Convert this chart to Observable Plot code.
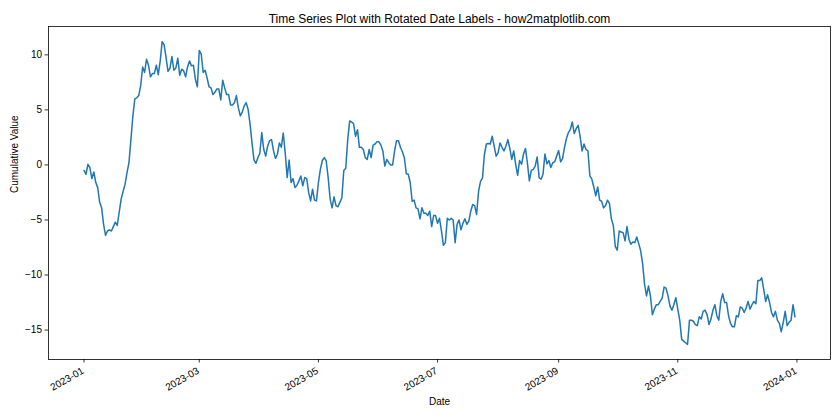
<!DOCTYPE html>
<html>
<head>
<meta charset="utf-8">
<script src="https://cdn.jsdelivr.net/npm/d3@7"></script>
<script src="https://cdn.jsdelivr.net/npm/@observablehq/plot@0.6"></script>
<style>
  html, body { margin: 0; padding: 0; background: #fff; }
  #chart svg { display: block; }
</style>
</head>
<body>
<div id="chart"></div>
<script>
// Daily cumulative values, 2023-01-01 .. 2023-12-31
const startDate = "2023-01-01";
const values = [
  -0.5, -0.85, 0.06, -0.24, -1.24, -0.64, -1.6, -2.06, -3.4, -3.9,
  -5.4, -6.4, -6.0, -5.9, -6.0, -5.6, -5.2, -5.5, -4.3, -3.1,
  -2.4, -1.75, -0.7, 0.2, 2.3, 4.45, 6.0, 6.1, 6.3, 7.2,
  8.9, 8.4, 9.6, 9.06, 8.0, 8.3, 8.3, 9.06, 8.2, 9.45,
  11.2, 10.9, 9.75, 8.5, 8.8, 9.85, 8.6, 8.8, 9.7, 8.15,
  8.7, 8.55, 8.0, 8.9, 9.45, 9.0, 9.06, 7.8, 7.1, 10.4,
  10.06, 8.4, 8.6, 7.9, 7.1, 7.0, 6.4, 6.6, 6.9, 6.9,
  5.9, 7.7, 7.0, 6.4, 6.4, 5.45, 5.45, 5.65, 6.3, 5.2,
  4.45, 4.8, 5.36, 5.65, 5.06, 3.7, 2.0, 0.45, 0.15, 0.66,
  1.06, 2.94, 1.42, 0.8, 1.7, 2.2, 2.3, 1.3, 0.6, 0.97,
  2.0, 1.6, 2.9, 1.1, -1.15, 0.45, -1.6, -1.25, -2.06, -1.85,
  -1.45, -1.0, -1.9, -1.15, -1.25, -2.5, -3.27, -2.2, -3.2, -3.27,
  -1.6, -0.4, 0.4, 0.66, 0.36, -1.15, -3.1, -3.9, -2.9, -3.7,
  -3.8, -3.4, -3.0, -0.5, -0.3, 2.3, 4.0, 3.9, 3.75, 2.6,
  3.2, 1.6, 1.6, 1.4, 0.66, 0.5, 1.4, 0.66, 1.8, 1.9,
  2.1, 2.1, 1.8, 1.27, -0.1, 0.5, 0.2, 0.0, 0.0, 1.27,
  2.2, 2.2, 1.6, 1.2, 0.66, -0.8, -0.85, -1.6, -3.3, -3.2,
  -3.9, -4.0, -4.9, -3.9, -4.4, -4.4, -4.6, -4.2, -5.6, -4.6,
  -4.6, -5.3, -4.85, -6.0, -7.3, -7.06, -4.85, -5.0, -4.85, -5.0,
  -7.06, -5.4, -5.0, -5.9, -5.3, -4.9, -5.4, -5.1, -4.2, -3.6,
  -3.7, -4.5, -2.4, -1.5, -1.2, 0.97, 1.9, 1.94, 1.9, 2.6,
  1.7, 0.8, 1.1, 2.0, 1.6, 1.27, 1.7, 2.3, 1.5, 0.5,
  1.27, 0.06, -0.94, 0.4, 0.06, 0.97, 1.5, 0.2, -1.45, -0.5,
  -0.4, -0.1, 0.73, -1.15, -1.3, -0.85, 1.0, 0.1, 0.4, -0.24,
  0.2, 0.3, 0.8, 1.3, 0.27, 0.57, 1.6, 2.4, 2.94, 3.24,
  3.9, 2.85, 3.3, 3.6, 2.6, 1.27, 1.9, 1.4, 1.27, -1.0,
  -1.3, -2.0, -2.8, -2.0, -3.2, -3.3, -3.9, -3.7, -3.2, -3.5,
  -4.9, -5.5, -7.4, -7.75, -6.0, -6.1, -6.15, -6.9, -5.6, -6.75,
  -7.2, -7.0, -7.06, -6.55, -7.15, -7.8, -8.97, -10.85, -11.9, -11.0,
  -11.9, -13.6, -13.1, -12.7, -12.7, -12.4, -12.1, -11.1, -11.2, -11.9,
  -12.8, -13.2, -12.7, -12.06, -13.1, -14.1, -15.85, -16.0, -16.15, -16.3,
  -14.1, -14.1, -14.2, -14.5, -14.6, -13.8, -14.0, -13.3, -13.2, -13.6,
  -14.5, -14.0, -13.2, -12.7, -13.7, -14.1, -12.4, -11.7, -12.5, -12.5,
  -13.7, -14.4, -14.7, -14.7, -13.7, -13.8, -12.9, -13.0, -13.4, -13.0,
  -12.4, -13.1, -12.7, -12.4, -12.6, -10.5, -10.5, -10.25, -11.3, -12.4,
  -11.8, -12.5, -13.4, -13.8, -13.3, -14.1, -14.4, -15.15, -14.3, -13.3,
  -14.6, -14.3, -14.1, -12.7, -13.8
];
const xTickLabels = ["2023-01", "2023-03", "2023-05", "2023-07", "2023-09", "2023-11", "2024-01"];
const yTicks = [-15, -10, -5, 0, 5, 10];
const titleText = "Time Series Plot with Rotated Date Labels - how2matplotlib.com";
const xLabel = "Date";
const yLabel = "Cumulative Value";

const parse = d3.utcParse("%Y-%m-%d");
const start = parse(startDate);
const data = values.map((v, i) => ({date: d3.utcDay.offset(start, i), value: v}));
const xTicks = xTickLabels.map(s => parse(s + "-01"));
const last = data[data.length - 1].date;
const span = (last - start);
const xDomain = [new Date(+start - span * 0.05), new Date(+last + span * 0.05)];
const vMin = d3.min(values), vMax = d3.max(values);
const vPad = (vMax - vMin) * 0.05;
const yDomain = [vMin - vPad, vMax + vPad];

const font = "'Liberation Sans', Arial, sans-serif";

const chart = Plot.plot({
  width: 840,
  height: 420,
  marginTop: 26,
  marginRight: 10,
  marginBottom: 61,
  marginLeft: 48,
  style: {fontFamily: font, fontSize: "10px", background: "#fff", color: "#000"},
  x: {type: "utc", domain: xDomain},
  y: {domain: yDomain},
  marks: [
    Plot.line(data, {x: "date", y: "value", stroke: "#1f77b4", strokeWidth: 1.5}),
    Plot.frame({stroke: "#000", strokeWidth: 0.8}),
    Plot.axisY({ticks: yTicks, tickSize: 3.5, tickPadding: 3, strokeWidth: 0.8, label: null, fontSize: 10}),
    Plot.axisX({ticks: xTicks, tickFormat: d3.utcFormat("%Y-%m"), tickSize: 3.5, strokeWidth: 0.8, text: null, label: null}),
    Plot.text(xTicks, {x: d => d, text: d3.utcFormat("%Y-%m"), frameAnchor: "bottom", dy: 7, dx: -3, rotate: -30, textAnchor: "end", lineAnchor: "top", fontSize: 10, fill: "#000"}),
    Plot.text([titleText], {text: d => d, frameAnchor: "top", dy: -12, fontSize: 12, fill: "#000"}),
    Plot.text([xLabel], {text: d => d, frameAnchor: "bottom", dy: 45, fontSize: 10, fill: "#000"}),
    Plot.text([yLabel], {text: d => d, frameAnchor: "left", dx: -34, rotate: -90, fontSize: 10, fill: "#000"})
  ]
});
document.getElementById("chart").appendChild(chart);
</script>
</body>
</html>
